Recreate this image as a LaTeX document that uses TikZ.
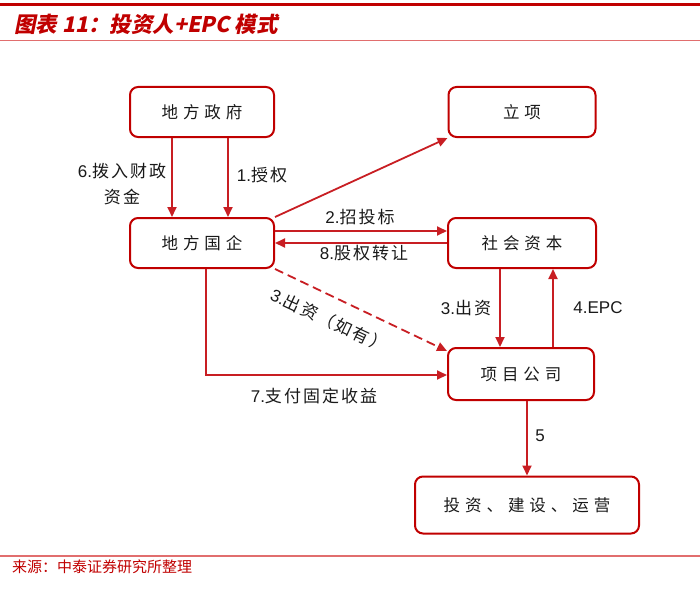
\documentclass[tikz,border=0pt]{standalone}
\usepackage{fontspec}
\setmainfont{Noto Sans CJK SC}
\newfontfamily\titlefont[FakeSlant=0.2]{Noto Sans CJK SC}
\newfontfamily\lat{Liberation Sans}
\usetikzlibrary{arrows.meta}
\definecolor{boxred}{RGB}{192,0,0}
\definecolor{linered}{RGB}{200,30,35}
\definecolor{rulered}{RGB}{225,110,110}
\definecolor{lbltext}{RGB}{25,25,25}
\begin{document}
\begin{tikzpicture}[x=1pt, y=-1pt,
    box/.style={draw=boxred, line width=2pt, rounded corners=8pt, minimum width=144pt, minimum height=50pt, align=center, text=lbltext, font=\fontsize{16.5}{18}\selectfont\addfontfeature{LetterSpace=30}},
    arrow/.style={-{Triangle[length=10pt,width=9pt]}, draw=linered, line width=1.8pt},
    lbl/.style={align=center, text=lbltext, font=\fontsize{17}{26}\selectfont\addfontfeature{LetterSpace=12}}
]
    \useasboundingbox (0,0) rectangle (700,591);

    % Header and footer
    \draw[boxred, line width=3pt] (0,5) -- (700,5);
    \node[anchor=west, text=boxred, inner sep=0pt, font=\titlefont\bfseries\fontsize{21.5}{24}\selectfont] (title) at (14,24) {图表 11：投资人+EPC 模式};
    \draw[rulered, line width=0.8pt] (0,40) -- (700,40);
    \draw[rulered, line width=1.2pt] (0,556) -- (700,556);
    \node[anchor=west, text=boxred, inner sep=0pt, font=\fontsize{15}{16}\selectfont] (src) at (12,567) {来源：中泰证券研究所整理};

    % Parties
    \node[box] (gov) at (202,112) {地方政府};
    \node[box, minimum width=147pt] (lixiang) at (522,112) {立项};
    \node[box] (soe) at (202,243) {地方国企};
    \node[box, minimum width=148pt] (shzb) at (522,243) {社会资本};
    \node[box, minimum width=146pt, minimum height=52pt] (xmgs) at (521,374) {项目公司};
    \node[box, minimum width=224pt, minimum height=57pt] (yy) at (527,505) {投资、建设、运营};

    % Arrows
    \draw[arrow] ([xshift=-30pt]gov.south) -- ([xshift=-30pt]soe.north);
    \draw[arrow] ([xshift=26pt]gov.south) -- ([xshift=26pt]soe.north);
    \draw[arrow] (soe.north east) -- (lixiang.south west);
    \draw[arrow] ([yshift=12pt]soe.east) -- ([yshift=12pt]shzb.west);
    \draw[arrow] (shzb.west) -- (soe.east);
    \draw[arrow, dashed, dash pattern=on 9pt off 5pt] (soe.south east) -- ([yshift=-4pt]xmgs.north west);
    \draw[arrow] ([xshift=4pt]soe.south) |- ([yshift=-1pt]xmgs.west);
    \draw[arrow] ([xshift=-22pt]shzb.south) -- ([xshift=-21pt]xmgs.north);
    \draw[arrow] ([xshift=32pt]xmgs.north) -- ([xshift=31pt]shzb.south);
    \draw[arrow] ([xshift=6pt]xmgs.south) -- ([xshift=0pt]yy.north);

    % Labels
    \node[lbl] (l6) at (122,184) {{\lat 6.}拨入财政\\资金};
    \node[lbl] (l1) at (262,175) {{\lat 1.}授权};
    \node[lbl] (l2) at (360,217) {{\lat 2.}招投标};
    \node[lbl] (l8) at (364,253) {{\lat 8.}股权转让};
    \node[lbl, rotate=-25] (l3a) at (329,320) {{\lat 3.}出资（如有）};
    \node[lbl] (l7) at (314,396) {{\lat 7.}支付固定收益};
    \node[lbl] (l3) at (466,308) {{\lat 3.}出资};
    \node[lbl] (l4) at (598,308) {{\lat 4.EPC}};
    \node[lbl] (l5) at (540,436) {{\lat 5}};
\end{tikzpicture}
\end{document}
